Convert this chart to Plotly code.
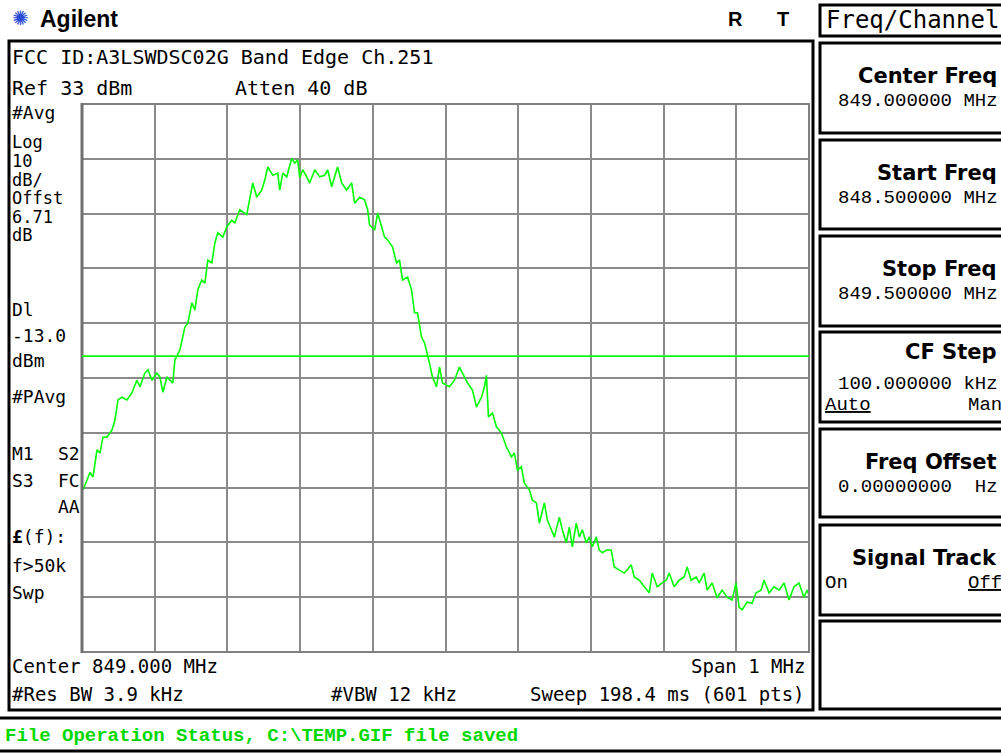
import plotly.graph_objects as go

# ---------------- data ----------------
start_mhz = 848.5
stop_mhz = 849.5
ref_level_dbm = 33.0
db_per_div = 10.0
display_line_dbm = -13.0

offset_khz = [
    0.0, 1.4, 6.9, 11.0, 15.1, 20.6, 24.7, 28.8, 34.3, 41.2, 45.3, 49.5, 54.9, 61.8, 68.7,
    75.5, 79.7, 86.5, 90.7, 96.2, 103.0, 107.1, 111.3, 116.8, 120.9, 125.0, 127.7, 134.6,
    141.5, 145.6, 151.1, 155.2, 159.3, 164.8, 169.0, 173.1, 178.6, 182.7, 186.8, 193.7,
    199.2, 206.0, 210.2, 217.0, 226.6, 230.8, 234.9, 240.4, 247.2, 251.4, 255.5, 262.4,
    269.2, 272.0, 276.1, 281.6, 288.5, 292.6, 296.7, 299.5, 303.6, 309.1, 313.2, 320.1,
    326.9, 333.8, 337.9, 343.4, 347.5, 351.6, 357.1, 364.0, 370.9, 375.0, 381.9, 388.7,
    392.9, 395.6, 402.5, 406.6, 412.1, 416.2, 420.3, 427.2, 432.7, 436.8, 440.9, 447.8,
    453.3, 457.4, 461.5, 467.0, 471.2, 475.3, 478.0, 482.1, 487.6, 491.8, 495.9, 505.5,
    512.4, 519.2, 523.4, 530.2, 537.1, 542.6, 549.5, 553.6, 556.3, 559.1, 564.6, 570.1,
    576.9, 583.8, 590.7, 594.8, 598.9, 604.4, 608.5, 615.4, 619.5, 625.0, 629.1, 636.0,
    640.1, 645.6, 649.7, 656.6, 660.7, 666.2, 670.3, 674.5, 679.9, 684.1, 688.2, 693.7,
    697.8, 701.9, 707.4, 711.5, 715.7, 721.2, 728.0, 732.1, 739.0, 745.9, 750.0, 755.5,
    759.6, 766.5, 773.4, 780.2, 784.3, 791.2, 798.1, 803.6, 807.7, 814.6, 821.4, 828.3,
    832.4, 837.9, 844.8, 848.9, 855.8, 859.9, 866.8, 873.6, 880.5, 887.4, 894.2, 899.7,
    903.8, 908.0, 914.8, 921.7, 927.2, 934.1, 938.2, 945.1, 951.9, 958.8, 965.7, 972.5,
    979.4, 986.3, 993.1, 997.3, 1000.0,
]
level_dbm = [
    -37.0, -37.4, -35.6, -34.2, -35.1, -30.1, -30.7, -27.8, -27.8, -26.5, -24.7, -21.0, -20.5, -21.0, -19.7,
    -17.4, -18.6, -16.1, -15.5, -17.4, -16.1, -16.8, -19.6, -16.8, -17.4, -17.9, -13.7, -11.9,
    -7.7, -7.0, -3.3, -4.6, -0.9, 0.9, 0.3, 4.5, 4.0, 7.6, 9.5, 8.7,
    10.6, 11.8, 11.3, 13.7, 12.8, 15.5, 18.6, 16.0, 17.3, 19.1, 21.5, 20.0,
    20.4, 17.3, 20.4, 19.7, 23.1, 22.2, 22.8, 19.5, 21.0, 19.7, 18.6, 21.0,
    19.7, 20.0, 21.0, 17.9, 19.7, 21.5, 18.6, 17.3, 18.6, 14.9, 16.0, 15.5,
    13.7, 10.9, 10.0, 13.1, 10.6, 8.7, 8.2, 6.9, 4.0, 4.5, 0.9, 1.4,
    -0.9, -5.1, -5.1, -9.5, -10.6, -13.2, -14.3, -16.8, -18.6, -15.0, -17.9, -18.6,
    -17.4, -15.0, -16.1, -17.9, -19.2, -22.3, -20.5, -18.6, -16.5, -24.1, -23.4, -25.9,
    -27.0, -29.6, -31.4, -30.7, -33.8, -33.2, -36.2, -37.4, -39.3, -39.8, -43.5, -39.8,
    -42.9, -44.7, -46.0, -42.4, -44.7, -47.1, -44.2, -47.8, -43.5, -46.0, -44.7, -47.1,
    -46.0, -47.8, -46.0, -48.4, -48.9, -48.4, -48.4, -51.5, -52.0, -52.6, -52.0, -51.1,
    -53.3, -53.9, -55.1, -56.2, -52.6, -55.1, -54.4, -53.9, -52.6, -55.1, -53.9, -53.3,
    -51.5, -53.9, -53.3, -54.4, -52.6, -55.7, -54.4, -57.1, -55.7, -57.0, -57.5, -54.4,
    -58.8, -59.3, -57.9, -58.1, -56.2, -55.7, -53.9, -56.2, -55.1, -55.7, -54.4, -57.5,
    -55.1, -54.4, -57.0, -55.7, -56.5,
]

left_labels = ["#Avg", "Log", "10", "dB/", "Offst", "6.71", "dB", "Dl", "-13.0", "dBm", "#PAvg",
               "M1", "S3", "<b>£</b>(f):", "f>50k", "Swp"]
softkeys = [("Center Freq", "849.000000 MHz"), ("Start Freq", "848.500000 MHz"),
            ("Stop Freq", "849.500000 MHz"), ("CF Step", "100.000000 kHz"),
            ("Freq Offset", "0.00000000  Hz"), ("Signal Track", ""), ("", "")]

# ---------------- figure ----------------
W, H = 1001, 753
def X(p):
    return p / W
def Y(p):
    return 1 - p / H

freq_mhz = [start_mhz + k / 1000.0 for k in offset_khz]
bottom = ref_level_dbm - 10 * db_per_div

fig = go.Figure()
fig.add_trace(go.Scatter(x=freq_mhz, y=level_dbm, mode="lines",
                         line=dict(color="#00ff00", width=1.6), hoverinfo="skip"))

MONO = "DejaVu Sans Mono"
MONO2 = "Liberation Mono"
SANS = "DejaVu Sans"

ann = []
def txt(s, x, y, size=19, family=MONO, color="black", anchor="left"):
    ann.append(dict(text=s, x=X(x), y=Y(y), xref="paper", yref="paper", xanchor=anchor,
                    yanchor="middle", showarrow=False, borderpad=0,
                    font=dict(family=family, size=size, color=color)))

# header
txt("✺", 11, 18, size=20, family=SANS, color="#2a4bd7")
txt("<b>Agilent</b>", 39, 19, size=23, family="Liberation Sans")
txt("<b>R</b>", 735, 19, size=20, family="Liberation Sans", anchor="center")
txt("<b>T</b>", 783, 19, size=20, family="Liberation Sans", anchor="center")
txt("Freq/Channel", 825, 20, size=24, family=MONO)

# main screen text
txt("FCC ID:A3LSWDSC02G Band Edge Ch.251", 11, 57, size=20)
txt("Ref 33 dBm", 11, 88, size=20)
txt("Atten 40 dB", 234, 88, size=20)

left_y = [113, 142, 161, 180, 198, 217, 235, 309, 335, 360, 396, 453, 480, 536, 565, 592]
left_sz = [18, 17, 17, 17, 17, 17, 17, 18, 18, 18, 18, 18, 18, 18, 18, 18]
for s, y, z in zip(left_labels, left_y, left_sz):
    txt(s, 11, y, size=z)
txt("S2", 81, 453, size=18, anchor="right")
txt("FC", 81, 480, size=18, anchor="right")
txt("AA", 81, 507, size=18, anchor="right")

txt("Center 849.000 MHz", 11, 666, size=19)
txt("Span 1 MHz", 806, 666, size=19, anchor="right")
txt("#Res BW 3.9 kHz", 11, 694, size=19)
txt("#VBW 12 kHz", 330, 694, size=19)
txt("Sweep 198.4 ms (601 pts)", 806, 694, size=19, anchor="right")

txt("<b>File Operation Status, C:\\TEMP.GIF file saved</b>", 4, 736, size=19,
    family=MONO2, color="#00d800")

# softkeys
box_tops = [43, 140, 236, 332, 429, 525, 621]
box_bots = [133, 229, 326, 422, 517, 615, 709]
for (title, val), t in zip(softkeys, box_tops):
    if title:
        ty = t + 33 if title != "CF Step" else t + 20
        txt("<b>" + title + "</b>", 998, ty, size=21, family=SANS, anchor="right")
    if val:
        vy = t + 58 if title != "CF Step" else t + 52
        txt(val, 999, vy, size=19, family=MONO2, anchor="right")
txt("<u>Auto</u>", 824, 405, size=19, family=MONO2)
txt("Man", 1003, 405, size=19, family=MONO2, anchor="right")
txt("On", 824, 583, size=19, family=MONO2)
txt("<u>Off</u>", 1003, 583, size=19, family=MONO2, anchor="right")

shapes = []
def rect(x0, y0, x1, y1, color="black", width=3):
    shapes.append(dict(type="rect", xref="paper", yref="paper", x0=X(x0), x1=X(x1),
                       y0=Y(y1), y1=Y(y0), line=dict(color=color, width=width)))
def vline(x, y0, y1, color, width):
    shapes.append(dict(type="line", xref="paper", yref="paper", x0=X(x), x1=X(x),
                       y0=Y(y0), y1=Y(y1), line=dict(color=color, width=width)))

rect(9, 41, 813, 710, width=3)
rect(820, 5, 1003, 36, width=3)
for t, b in zip(box_tops, box_bots):
    rect(820, t, 1003, b, width=3)
rect(-3, 718, 1004, 751, width=3)
# plot border
rect(82, 104, 809, 652, color="#808080", width=2)
vline(82, 103, 653, "#707070", 3)
# display line
shapes.append(dict(type="line", xref="x domain", yref="y", x0=0, x1=1,
                   y0=display_line_dbm, y1=display_line_dbm,
                   line=dict(color="#00ff00", width=1.6)))

fig.update_layout(
    width=W, height=H, margin=dict(l=0, r=0, t=0, b=0),
    paper_bgcolor="white", plot_bgcolor="white", showlegend=False,
    annotations=ann, shapes=shapes,
    xaxis=dict(domain=[X(82), X(809)], range=[start_mhz, stop_mhz], tick0=start_mhz, dtick=0.1,
               showgrid=True, gridcolor="#8a8a8a", gridwidth=2, showticklabels=False,
               ticks="", zeroline=False, showline=False, fixedrange=True),
    yaxis=dict(domain=[Y(652), Y(104)], range=[bottom, ref_level_dbm], tick0=bottom, dtick=db_per_div,
               showgrid=True, gridcolor="#8a8a8a", gridwidth=2, showticklabels=False,
               ticks="", zeroline=False, showline=False, fixedrange=True),
)

fig.write_html("out.html", config={"displayModeBar": False},
               post_script="document.body.style.margin='0px';document.body.style.overflow='hidden';")
